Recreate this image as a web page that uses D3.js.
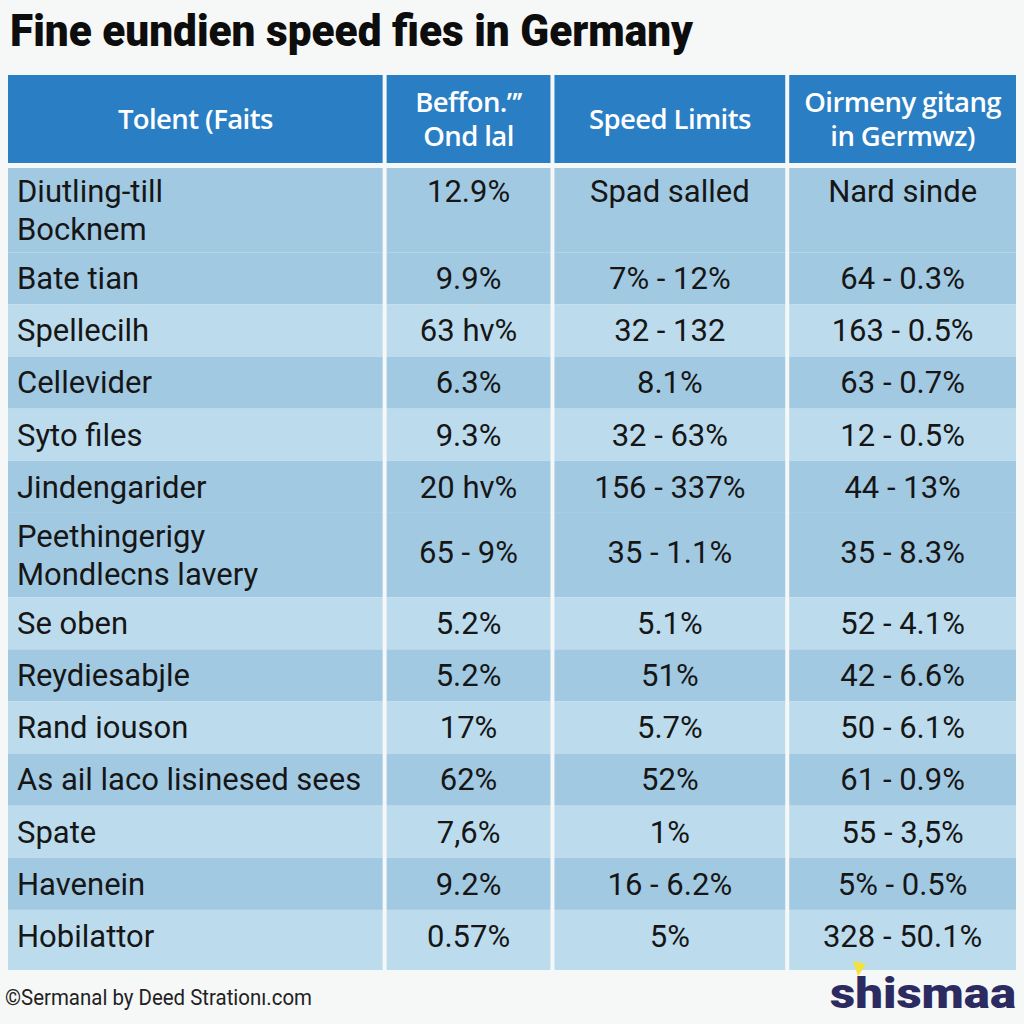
<!DOCTYPE html>
<html>
<head>
<meta charset="utf-8">
<script src="https://cdn.jsdelivr.net/npm/d3@7"></script>
<style>
  html, body { margin: 0; padding: 0; background: #f6f7f7; }
  svg { display: block; }
</style>
</head>
<body>
<script>
// ---------- data ----------
const title = "Fine eundien speed fies in Germany";
const headers = [
  ["Tolent (Faits"],
  ["Beffon.\u201D\u2019", "Ond lal"],
  ["Speed Limits"],
  ["Oirmeny gitang", "in Germwz)"]
];
const categories = [
  ["Diutling-till", "Bocknem"],
  ["Bate tian"],
  ["Spellecilh"],
  ["Cellevider"],
  ["Syto files"],
  ["Jindengarider"],
  ["Peethingerigy", "Mondlecns lavery"],
  ["Se oben"],
  ["Reydiesabjle"],
  ["Rand iouson"],
  ["As ail laco lisinesed sees"],
  ["Spate"],
  ["Havenein"],
  ["Hobilattor"]
];
const fineValues = ["12.9%", "9.9%", "63 hv%", "6.3%", "9.3%", "20 hv%", "65 - 9%", "5.2%", "5.2%", "17%", "62%", "7,6%", "9.2%", "0.57%"];
const speedLimits = ["Spad salled", "7% - 12%", "32 - 132", "8.1%", "32 - 63%", "156 - 337%", "35 - 1.1%", "5.1%", "51%", "5.7%", "52%", "1%", "16 - 6.2%", "5%"];
const germanyValues = ["Nard sinde", "64 - 0.3%", "163 - 0.5%", "63 - 0.7%", "12 - 0.5%", "44 - 13%", "35 - 8.3%", "52 - 4.1%", "42 - 6.6%", "50 - 6.1%", "61 - 0.9%", "55 - 3,5%", "5% - 0.5%", "328 - 50.1%"];
const footerText = "\u00A9Sermanal by Deed Stration\u0131.com";
const logoText = "shismaa";

// ---------- layout ----------
const W = 1024, H = 1024;
const svg = d3.select("body").append("svg").attr("width", W).attr("height", H);
svg.append("rect").attr("width", W).attr("height", H).attr("fill", "#f6f7f7");

const colors = { header: "#2a7ec4", dark: "#a2c9e2", light: "#bcdcee", text: "#161616" };

// column edges via a linear scale over cumulative column units
const colUnits = [375, 164, 231, 227];
const colStarts = [0];
colUnits.forEach((u, i) => colStarts.push(colStarts[i] + u + 4));
const x = d3.scaleLinear().domain([0, colStarts[4] - 4]).range([8, 1016]);
const cols = colUnits.map((u, i) => ({ x0: x(colStarts[i]), x1: x(colStarts[i] + u) }));
cols.forEach(c => c.cx = (c.x0 + c.x1) / 2);

// title
svg.append("text")
  .attr("x", 10).attr("y", 46)
  .attr("font-family", "Roboto, 'Open Sans', sans-serif")
  .attr("font-weight", 900)
  .attr("font-size", 45)
  .attr("textLength", 683)
  .attr("lengthAdjust", "spacingAndGlyphs")
  .attr("fill", "#0d0d0d")
  .text(title);

// header
const headerTop = 75, headerBottom = 163;
const hg = svg.append("g");
hg.selectAll("rect").data(headers).join("rect")
  .attr("x", (d, i) => cols[i].x0).attr("y", headerTop)
  .attr("width", (d, i) => cols[i].x1 - cols[i].x0)
  .attr("height", headerBottom - headerTop)
  .attr("fill", colors.header);
headers.forEach((lines, i) => {
  const mid = (headerTop + headerBottom) / 2;
  lines.forEach((ln, j) => {
    const yy = mid + (j - (lines.length - 1) / 2) * 34;
    hg.append("text")
      .attr("x", cols[i].cx).attr("y", yy).attr("dy", "0.35em")
      .attr("text-anchor", "middle")
      .attr("font-family", "'Open Sans', sans-serif")
      .attr("font-weight", 600)
      .attr("font-size", 27.5)
      .attr("letter-spacing", -0.6)
      .attr("fill", "#ffffff")
      .text(ln);
  });
});

// body rows: y scale over cumulative line units
const rowUnits = categories.map(c => c.length === 2 ? 1.62 : 1);
const cum = [0];
rowUnits.forEach((u, i) => cum.push(cum[i] + u));
const y = d3.scaleLinear().domain([0, cum[cum.length - 1]]).range([168, 962]);
const rows = categories.map((c, i) => ({
  label: c, fine: fineValues[i], speed: speedLimits[i], ger: germanyValues[i],
  y0: y(cum[i]), y1: i === categories.length - 1 ? 970 : y(cum[i + 1])
}));
const darkRows = new Set([0, 1, 3, 5, 6, 8, 10, 12]);

const body = svg.append("g");
rows.forEach((r, i) => {
  cols.forEach(c => {
    body.append("rect")
      .attr("x", c.x0).attr("y", r.y0)
      .attr("width", c.x1 - c.x0).attr("height", r.y1 - r.y0)
      .attr("fill", darkRows.has(i) ? colors.dark : colors.light);
  });
});

const textFont = "Roboto, 'Noto Sans', sans-serif";
function addText(xp, yp, str, anchor) {
  body.append("text")
    .attr("x", xp).attr("y", yp).attr("dy", "0.35em")
    .attr("text-anchor", anchor)
    .attr("font-family", textFont)
    .attr("font-size", 31)
    .attr("fill", colors.text)
    .text(str);
}
rows.forEach((r, i) => {
  const single = r.label.length === 1;
  const firstY = single ? r.y0 + 26 : r.y0 + 23;
  r.label.forEach((ln, j) => addText(17, firstY + j * 38, ln, "start"));
  const vy = i === 0 ? firstY : (single ? firstY : (r.y0 + r.y1) / 2 - 3);
  addText(cols[1].cx, vy, r.fine, "middle");
  addText(cols[2].cx, vy, r.speed, "middle");
  addText(cols[3].cx, vy, r.ger, "middle");
});

// footer
svg.append("text")
  .attr("x", 5).attr("y", 1005)
  .attr("font-family", "'Liberation Sans Narrow', Roboto, sans-serif")
  .attr("font-size", 22)
  .attr("textLength", 307)
  .attr("lengthAdjust", "spacingAndGlyphs")
  .attr("fill", "#222")
  .text(footerText);

svg.append("polygon")
  .attr("points", "853,961 866,964 858,976")
  .attr("fill", "#f2e23a");
svg.append("text")
  .attr("x", 830).attr("y", 1008)
  .attr("font-family", "Roboto, sans-serif")
  .attr("font-weight", 900)
  .attr("font-size", 42)
  .attr("textLength", 186)
  .attr("lengthAdjust", "spacingAndGlyphs")
  .attr("fill", "#2b2b62")
  .text(logoText);
</script>
</body>
</html>
